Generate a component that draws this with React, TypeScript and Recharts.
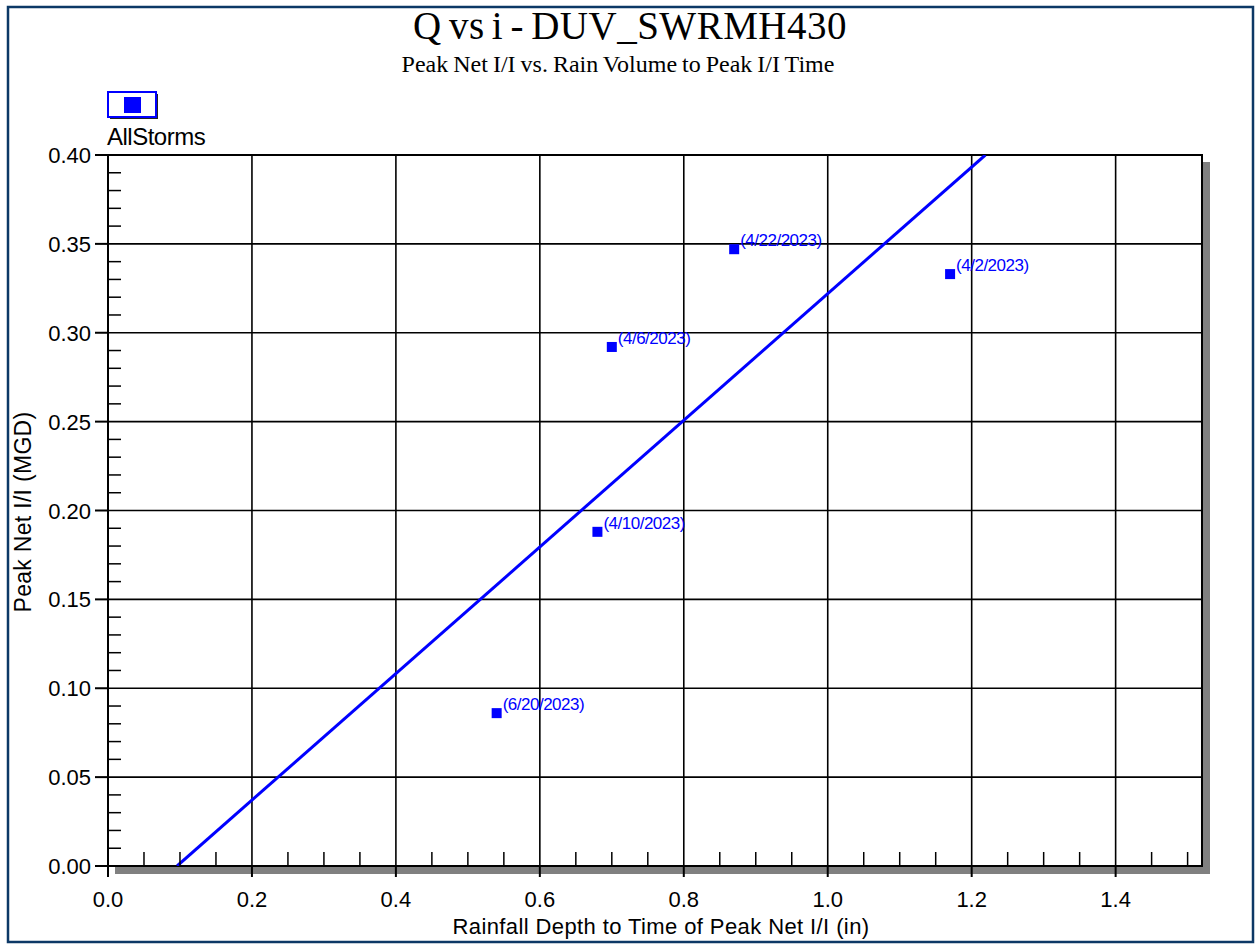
import React from 'react';
import { ScatterChart, Scatter, XAxis, YAxis, ReferenceLine, ReferenceArea } from 'recharts';

// storm events
const stormDates = ['4/2/2023', '4/6/2023', '4/10/2023', '4/22/2023', '6/20/2023'];
const rainDepth = [1.17, 0.70, 0.68, 0.87, 0.54];
const peakNetII = [0.333, 0.292, 0.188, 0.347, 0.086];

// regression line end points
const fitX = [0.096, 1.219];
const fitY = [0.0, 0.4];

const xTicks = [
    0, 0.05, 0.1, 0.15, 0.2, 0.25, 0.3, 0.35, 0.4, 0.45, 0.5, 0.55, 0.6, 0.65, 0.7, 0.75,
    0.8, 0.85, 0.9, 0.95, 1.0, 1.05, 1.1, 1.15, 1.2, 1.25, 1.3, 1.35, 1.4, 1.45, 1.5,
];
const xMajor = [0, 0.2, 0.4, 0.6, 0.8, 1.0, 1.2, 1.4];
const yTicks = [
    0, 0.01, 0.02, 0.03, 0.04, 0.05, 0.06, 0.07, 0.08, 0.09, 0.1, 0.11, 0.12, 0.13, 0.14,
    0.15, 0.16, 0.17, 0.18, 0.19, 0.2, 0.21, 0.22, 0.23, 0.24, 0.25, 0.26, 0.27, 0.28,
    0.29, 0.3, 0.31, 0.32, 0.33, 0.34, 0.35, 0.36, 0.37, 0.38, 0.39, 0.4,
];
const yMajor = [0, 0.05, 0.1, 0.15, 0.2, 0.25, 0.3, 0.35, 0.4];

const X_MAX = 1.52;
const Y_MAX = 0.4;

const SANS = '"Liberation Sans", Arial, sans-serif';
const SERIF = '"Liberation Serif", "Times New Roman", serif';
const BLUE = '#0000ff';

const pointData = stormDates.map((d, i) => ({ x: rainDepth[i], y: peakNetII[i], label: d }));
const fitData = fitX.map((x, i) => ({ x, y: fitY[i] }));

const isMajor = (v: number, list: number[]) => list.some((m) => Math.abs(m - v) < 1e-6);

const XTick = (props: any) => {
    const { x, y, payload } = props;
    const v = payload.value;
    if (isMajor(v, xMajor)) {
        return (
            <g>
                <line x1={x} y1={y} x2={x} y2={y + 11} stroke="#000" strokeWidth={2} />
                <text x={x} y={y + 41} textAnchor="middle" fontFamily={SANS} fontSize={22} fill="#000">
                    {v.toFixed(1)}
                </text>
            </g>
        );
    }
    return <line x1={x} y1={y} x2={x} y2={y - 14} stroke="#000" strokeWidth={1.5} />;
};

const YTick = (props: any) => {
    const { x, y, payload } = props;
    const v = payload.value;
    if (isMajor(v, yMajor)) {
        return (
            <g>
                <line x1={x - 13} y1={y} x2={x} y2={y} stroke="#000" strokeWidth={2} />
                <text x={x - 17} y={y + 8} textAnchor="end" fontFamily={SANS} fontSize={22} fill="#000">
                    {v.toFixed(2)}
                </text>
            </g>
        );
    }
    return <line x1={x} y1={y} x2={x + 13} y2={y} stroke="#000" strokeWidth={1.5} />;
};

const StormPoint = (props: any) => {
    const { cx, cy, payload } = props;
    return (
        <g>
            <rect x={cx - 5} y={cy - 5} width={10} height={10} fill={BLUE} />
            <text x={cx + 6} y={cy - 3} fontFamily={SANS} fontSize={17} letterSpacing={-0.5} fill={BLUE}>
                ({payload.label})
            </text>
        </g>
    );
};

const PlotFrame = (props: any) => {
    const { x, y, width, height } = props;
    return (
        <g>
            <rect x={x + width + 1} y={y + 7} width={7} height={height} fill="#808080" />
            <rect x={x + 7} y={y + height + 1} width={width + 1} height={7} fill="#808080" />
            <rect x={x} y={y} width={width} height={height} fill="none" stroke="#000" strokeWidth={2} />
        </g>
    );
};

const App = () => {
    return (
        <div style={{ position: 'absolute', left: 0, top: 0, width: 1256, height: 944, background: '#fff' }}>
            <ScatterChart width={1256} height={944} margin={{ top: 155, right: 54, bottom: 48, left: 48 }}>
                <XAxis
                    type="number"
                    dataKey="x"
                    domain={[0, X_MAX]}
                    ticks={xTicks}
                    interval={0}
                    allowDataOverflow
                    axisLine={false}
                    tickLine={false}
                    tickSize={0}
                    tickMargin={0}
                    height={30}
                    tick={<XTick />}
                />
                <YAxis
                    type="number"
                    dataKey="y"
                    domain={[0, Y_MAX]}
                    ticks={yTicks}
                    interval={0}
                    allowDataOverflow
                    axisLine={false}
                    tickLine={false}
                    tickSize={0}
                    tickMargin={0}
                    width={60}
                    tick={<YTick />}
                />
                {xMajor.filter((v) => v > 0).map((v) => (
                    <ReferenceLine key={'vx' + v} x={v} stroke="#000" strokeWidth={1.6} />
                ))}
                {yMajor.filter((v) => v > 0 && v < Y_MAX).map((v) => (
                    <ReferenceLine key={'hy' + v} y={v} stroke="#000" strokeWidth={1.6} />
                ))}
                <ReferenceArea x1={0} x2={X_MAX} y1={0} y2={Y_MAX} shape={<PlotFrame />} />
                <Scatter
                    name="fit"
                    data={fitData}
                    fill={BLUE}
                    line={{ stroke: BLUE, strokeWidth: 3 }}
                    shape={() => <g />}
                    isAnimationActive={false}
                />
                <Scatter name="AllStorms" data={pointData} fill={BLUE} shape={<StormPoint />} isAnimationActive={false} />
            </ScatterChart>
            <svg
                width={1256}
                height={944}
                style={{ position: 'absolute', left: 0, top: 0, pointerEvents: 'none' }}
            >
                <rect x={8} y={7} width={1245} height={935} fill="none" stroke="#0c3866" strokeWidth={2.5} />
                <text
                    x={630}
                    y={39}
                    textAnchor="middle"
                    fontFamily={SERIF}
                    fontSize={39}
                    letterSpacing={0.5}
                    wordSpacing={-3}
                    fill="#000"
                >
                    Q vs i - DUV_SWRMH430
                </text>
                <text x={618} y={72} textAnchor="middle" fontFamily={SERIF} fontSize={24} wordSpacing={-1} fill="#000">
                    Peak Net I/I vs. Rain Volume to Peak I/I Time
                </text>
                <rect x={110} y={94} width={48} height={25} fill="#222" />
                <rect x={108} y={92} width={48} height={25} fill="#fff" stroke={BLUE} strokeWidth={2} />
                <rect x={124} y={97} width={17} height={16} fill={BLUE} />
                <text x={107} y={145} fontFamily={SANS} fontSize={24} letterSpacing={-0.5} fill="#000">
                    AllStorms
                </text>
                <text x={661} y={934} textAnchor="middle" fontFamily={SANS} fontSize={22} letterSpacing={0.4} fill="#000">
                    Rainfall Depth to Time of Peak Net I/I (in)
                </text>
                <text
                    x={0}
                    y={0}
                    transform="translate(31, 512) rotate(-90)"
                    textAnchor="middle"
                    fontFamily={SANS}
                    fontSize={23}
                    letterSpacing={0.3}
                    fill="#000"
                >
                    Peak Net I/I (MGD)
                </text>
            </svg>
        </div>
    );
};

export default App;
